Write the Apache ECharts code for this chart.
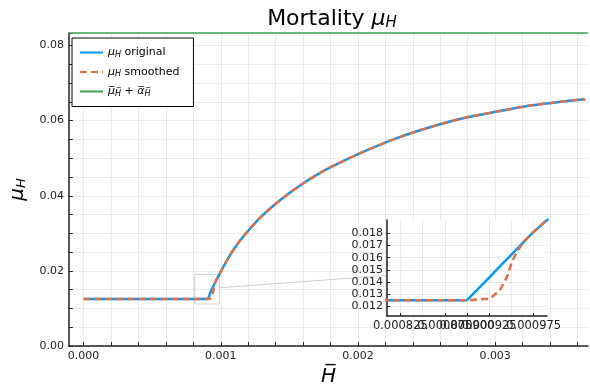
<!DOCTYPE html>
<html>
<head>
<meta charset="utf-8">
<script src="https://cdn.jsdelivr.net/npm/echarts@6/dist/echarts.min.js"></script>
<style>
html,body{margin:0;padding:0;background:#fff;}
#chart{width:590px;height:392px;}
</style>
</head>
<body>
<div id="chart"></div>
<script>
// ---- data ----
const hValues = [0, 0.0009, 0.000926, 0.000937, 0.000945, 0.00095, 0.000956, 0.000964, 0.000973, 0.00099,
  0.001004, 0.001064, 0.001137, 0.00121, 0.001282, 0.001379, 0.0015, 0.001622, 0.001743, 0.001839,
  0.002046, 0.002288, 0.00253, 0.002772, 0.003014, 0.003256, 0.003498, 0.003656];
const muOriginal = [0.0125, 0.0125, 0.01445, 0.01528, 0.01588, 0.01625, 0.0167, 0.0173, 0.01798, 0.0191,
  0.0201, 0.0240, 0.0279, 0.0311, 0.0340, 0.0372, 0.0407, 0.0438, 0.0465, 0.0483,
  0.0518, 0.0554, 0.0583, 0.0607, 0.0624, 0.0640, 0.0651, 0.0657];
const muSmoothed = [0.0125, 0.0125, 0.01264, 0.01332, 0.01442, 0.01553, 0.01648, 0.01731, 0.0180, 0.0191,
  0.0201, 0.0240, 0.0279, 0.0311, 0.0340, 0.0372, 0.0407, 0.0438, 0.0465, 0.0483,
  0.0518, 0.0554, 0.0583, 0.0607, 0.0624, 0.0640, 0.0651, 0.0657];
const boundValue = 0.0833;          // mu_H bar + alpha_H bar
const xExtent = [-0.000107, 0.003677];
const yExtent = [0, 0.0833];
const xTickLabels = [0, 0.001, 0.002, 0.003];
const xTickMarks = [0, 0.0002, 0.0004, 0.0006, 0.0008, 0.001, 0.0012, 0.0014, 0.0016, 0.0018, 0.002,
  0.0022, 0.0024, 0.0026, 0.0028, 0.003, 0.0032, 0.0034, 0.0036];
const lensX = [0.00081, 0.00099];
const lensY = [0.0112, 0.0191];
const connectorEnd = [0.002203, 0.01878];
const connectorStartY = 0.01551;
const insetXTicks = [0.000825, 0.00085, 0.000875, 0.0009, 0.000925, 0.00095, 0.000975];
const insetYTicks = [0.012, 0.013, 0.014, 0.015, 0.016, 0.017, 0.018];

const zip = (a, b) => a.map((v, i) => [v, b[i]]);
const FONT = 'DejaVu Sans';
const BLUE = '#009AFA', ORANGE = '#E26F46', GREEN = '#3DA44D';
const gridLine = {show: true, lineStyle: {color: 'rgba(0,0,0,0.08)', width: 1}};
const sub = (size, pad) => ({fontSize: size, fontStyle: 'italic', fontFamily: FONT, padding: [pad, 0, 0, 0], color: '#000'});
const ital = size => ({fontSize: size, fontStyle: 'italic', fontFamily: FONT, color: '#000'});

const legendNames = {
  orig: '{i|μ}{s|H} original',
  smooth: '{i|μ}{s|H} smoothed',
  bound: '{i|μ̅}{s|H̅} + {i|α̅}{s|H̅}'
};

const chart = echarts.init(document.getElementById('chart'), null, {renderer: 'canvas'});
chart.setOption({
  animation: false,
  backgroundColor: '#fff',
  title: {
    text: 'Mortality {i|μ}{s|H}',
    left: 327, top: 2, textAlign: 'center',
    textStyle: {fontSize: 22, fontWeight: 'normal', fontFamily: FONT, color: '#000',
      rich: {i: ital(22), s: sub(15, 9)}}
  },
  legend: {
    data: ['orig', 'smooth', 'bound'],
    orient: 'vertical', left: 72, top: 38,
    backgroundColor: '#fff', borderColor: '#000', borderWidth: 1, borderRadius: 0,
    padding: [9, 14, 9, 7], itemWidth: 23, itemHeight: 10, itemGap: 8,
    itemStyle: {opacity: 0},
    formatter: n => legendNames[n],
    textStyle: {fontSize: 11, fontFamily: FONT, color: '#000',
      rich: {i: ital(11), s: sub(8, 4)}}
  },
  grid: [
    {left: 67, right: 2, top: 33, bottom: 45, containLabel: false},
    {left: 387, top: 220, width: 160, height: 96, show: true, backgroundColor: '#fff', borderWidth: 0, z: 5}
  ],
  xAxis: [
    {
      type: 'value', gridIndex: 0, min: xExtent[0], max: xExtent[1],
      name: 'H̅', nameLocation: 'middle', nameGap: 13,
      nameTextStyle: {fontSize: 20, fontStyle: 'italic', fontFamily: FONT, color: '#000'},
      axisLine: {show: true, onZero: false, lineStyle: {color: '#222', width: 1.5}},
      axisTick: {show: true, inside: true, length: 4, lineStyle: {color: '#222'}, customValues: xTickMarks},
      axisLabel: {fontSize: 11, fontFamily: FONT, color: '#222', margin: 5, customValues: xTickLabels,
        formatter: v => v.toFixed(3)},
      splitLine: gridLine
    },
    {
      type: 'value', gridIndex: 1, min: lensX[0], max: lensX[1], z: 6,
      axisLine: {show: true, onZero: false, lineStyle: {color: '#222', width: 1.5}},
      axisTick: {show: true, inside: true, length: 3, lineStyle: {color: '#222'}, customValues: insetXTicks},
      axisLabel: {fontSize: 11.5, fontFamily: FONT, color: '#222', margin: 4, customValues: insetXTicks,
        interval: 0, hideOverlap: false, showMinLabel: true, showMaxLabel: true, formatter: v => v.toFixed(6)},
      splitLine: gridLine
    }
  ],
  yAxis: [
    {
      type: 'value', gridIndex: 0, min: yExtent[0], max: yExtent[1], interval: 0.01,
      name: '{i|μ}{s|H}', nameLocation: 'middle', nameGap: 37, nameRotate: 90,
      nameTextStyle: {fontSize: 20, fontFamily: FONT, color: '#000', rich: {i: ital(20), s: sub(13, 8)}},
      axisLine: {show: true, onZero: false, lineStyle: {color: '#222', width: 1.5}},
      axisTick: {show: true, inside: true, length: 4, lineStyle: {color: '#222'}},
      minorTick: {show: true, splitNumber: 2, length: 4, lineStyle: {color: '#222'}},
      axisLabel: {fontSize: 11, fontFamily: FONT, color: '#222', margin: 5, showMaxLabel: false,
        formatter: v => (Math.abs(v / 0.02 - Math.round(v / 0.02)) < 1e-6 ? v.toFixed(2) : '')},
      splitLine: gridLine,
      minorSplitLine: gridLine
    },
    {
      type: 'value', gridIndex: 1, min: lensY[0], max: lensY[1], z: 6,
      axisLine: {show: true, onZero: false, lineStyle: {color: '#222', width: 1.5}},
      axisTick: {show: true, inside: true, length: 3, lineStyle: {color: '#222'}, customValues: insetYTicks},
      axisLabel: {fontSize: 11, fontFamily: FONT, color: '#222', margin: 4, customValues: insetYTicks,
        formatter: v => v.toFixed(3)},
      splitLine: gridLine
    }
  ],
  series: [
    {name: 'orig', type: 'line', xAxisIndex: 0, yAxisIndex: 0, data: zip(hValues, muOriginal),
      smooth: 0.2, showSymbol: false, symbol: 'none', color: BLUE, lineStyle: {color: BLUE, width: 2.5}, z: 2},
    {name: 'smooth', type: 'line', xAxisIndex: 0, yAxisIndex: 0, data: zip(hValues, muSmoothed),
      smooth: 0.2, showSymbol: false, symbol: 'none', color: ORANGE, lineStyle: {color: ORANGE, width: 2.5, type: [7, 4]}, z: 3},
    {name: 'bound', type: 'line', xAxisIndex: 0, yAxisIndex: 0, data: [[xExtent[0], boundValue], [xExtent[1], boundValue]],
      showSymbol: false, symbol: 'none', color: GREEN, lineStyle: {color: GREEN, width: 1.5}, clip: false, z: 2},
    {name: 'lensbox', type: 'line', xAxisIndex: 0, yAxisIndex: 0, silent: true,
      data: [[lensX[0], lensY[0]], [lensX[1], lensY[0]], [lensX[1], lensY[1]], [lensX[0], lensY[1]], [lensX[0], lensY[0]]],
      showSymbol: false, symbol: 'none', lineStyle: {color: '#cfcfcf', width: 1}, z: 1},
    {name: 'connector', type: 'line', xAxisIndex: 0, yAxisIndex: 0, silent: true,
      data: [[lensX[1], connectorStartY], connectorEnd],
      showSymbol: false, symbol: 'none', lineStyle: {color: '#cfcfcf', width: 1}, z: 1},
    {name: 'orig', type: 'line', xAxisIndex: 1, yAxisIndex: 1, data: zip(hValues, muOriginal),
      showSymbol: false, symbol: 'none', color: BLUE, lineStyle: {color: BLUE, width: 2.5}, z: 7},
    {name: 'smooth', type: 'line', xAxisIndex: 1, yAxisIndex: 1, data: zip(hValues, muSmoothed),
      showSymbol: false, symbol: 'none', color: ORANGE, lineStyle: {color: ORANGE, width: 2.5, type: [7, 4]}, z: 8}
  ]
});
</script>
</body>
</html>
